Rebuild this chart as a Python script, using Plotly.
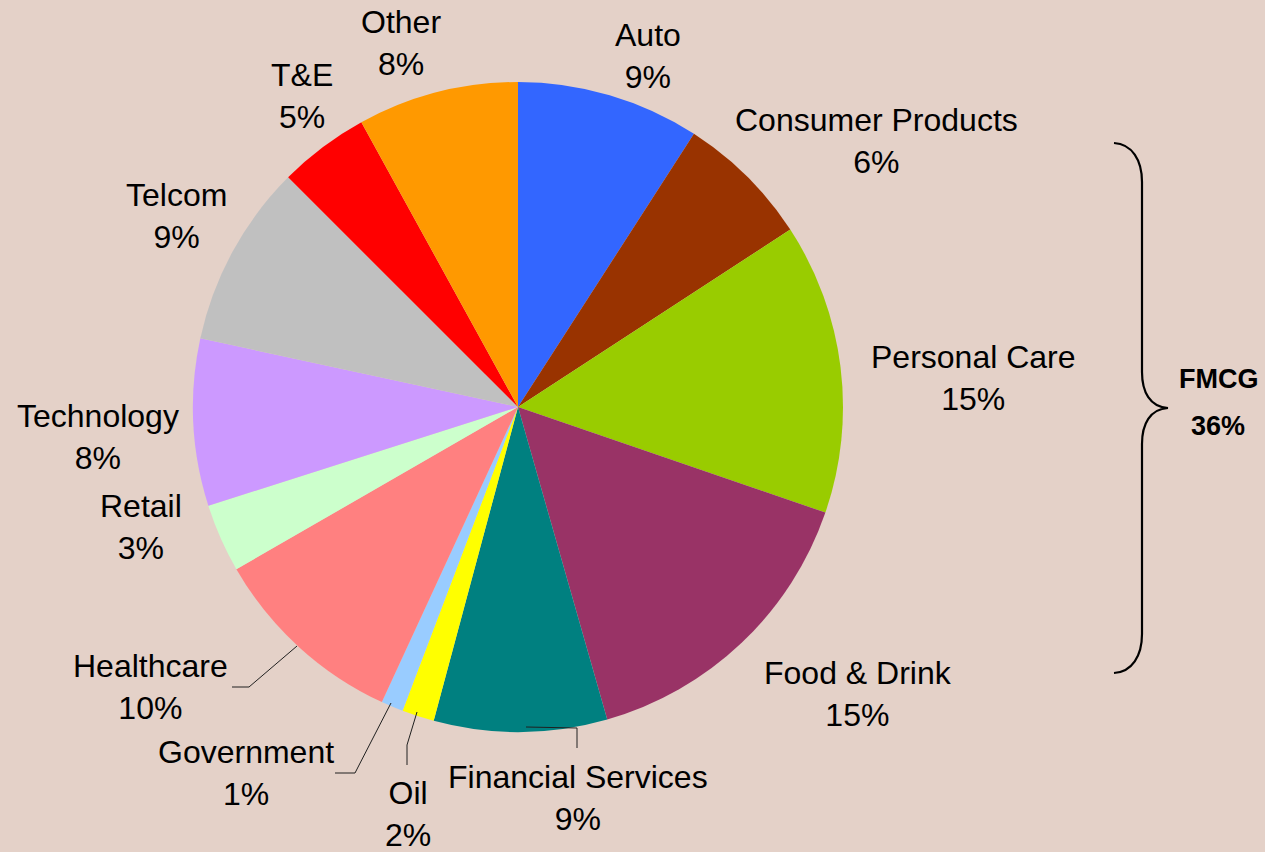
import plotly.graph_objects as go

W, H = 1265, 852

# ---- data ----
sectors = ["Auto", "Consumer Products", "Personal Care", "Food & Drink",
           "Financial Services", "Oil", "Government", "Healthcare", "Retail",
           "Technology", "Telcom", "T&E", "Other"]
shares = [9.1, 6.7, 14.45, 15.3, 8.6, 1.6, 1.1, 9.8, 3.4, 8.3, 9.1, 4.5, 8.0]
share_labels = ["9%", "6%", "15%", "15%", "9%", "2%", "1%", "10%", "3%",
                "8%", "9%", "5%", "8%"]
colors = ["#3366FF", "#993300", "#99CC00", "#993366", "#008080", "#FFFF00",
          "#99CCFF", "#FF8080", "#CCFFCC", "#CC99FF", "#C0C0C0", "#FF0000",
          "#FF9900"]
group_name = "FMCG"
group_label = "36%"

# label centres in pixels (layout only)
label_pos = [(648, 56), (876, 141), (973, 378), (858, 694), (578, 798),
             (408, 814), (246, 773), (150, 687), (141, 527), (98, 437),
             (176, 216), (302, 96), (401, 43)]


def px(x):
    return x / W


def py(y):
    return 1 - y / H


cx, cy, r = 518, 407, 325

fig = go.Figure()
fig.add_trace(go.Pie(
    labels=sectors, values=shares, sort=False, direction="clockwise",
    rotation=0, textinfo="none", hoverinfo="none",
    marker=dict(colors=colors, line=dict(width=0)),
    domain=dict(x=[px(cx - r), px(cx + r)], y=[py(cy + r), py(cy - r)]),
    showlegend=False,
))

font = dict(family="Liberation Sans, Arial, sans-serif", size=32, color="black")
for name, lab, (x, y) in zip(sectors, share_labels, label_pos):
    fig.add_annotation(x=px(x), y=py(y), xref="paper", yref="paper",
                       text=f"{name}<br>{lab}", showarrow=False,
                       xanchor="center", yanchor="middle", align="center",
                       font=font)

bfont = dict(family="Liberation Sans, Arial, sans-serif", size=27,
             color="black")
fig.add_annotation(x=px(1218), y=py(379), xref="paper", yref="paper",
                   text=f"<b>{group_name}</b>", showarrow=False,
                   xanchor="center", yanchor="middle", font=bfont)
fig.add_annotation(x=px(1218), y=py(426), xref="paper", yref="paper",
                   text=f"<b>{group_label}</b>", showarrow=False,
                   xanchor="center", yanchor="middle", font=bfont)

# leader lines
leaders = [
    [(232, 687), (249, 687), (297, 646)],      # Healthcare
    [(335, 773), (355, 773), (391, 703)],      # Government
    [(407, 765), (407, 745), (417, 712)],      # Oil
    [(526, 727), (577, 728), (577, 748)],      # Financial Services
]
for pts in leaders:
    d = "M " + " L ".join(f"{px(a)},{py(b)}" for a, b in pts)
    fig.add_shape(type="path", path=d, xref="paper", yref="paper",
                  line=dict(color="#202020", width=1))


# curly brace
def P(a, b):
    return f"{px(a)},{py(b)}"


brace = (f"M {P(1114,143)} C {P(1132,144)} {P(1142,160)} {P(1142,182)} "
         f"L {P(1142,372)} C {P(1142,392)} {P(1150,407)} {P(1168,408)} "
         f"C {P(1150,409)} {P(1142,424)} {P(1142,444)} "
         f"L {P(1142,634)} C {P(1142,656)} {P(1132,672)} {P(1114,673)}")
fig.add_shape(type="path", path=brace, xref="paper", yref="paper",
              line=dict(color="black", width=2.2))

fig.update_layout(
    width=W, height=H,
    margin=dict(l=0, r=0, t=0, b=0),
    paper_bgcolor="#E4D1C8",
    plot_bgcolor="#E4D1C8",
)

fig.write_html("out.html",
               config={"displayModeBar": False},
               post_script="document.body.style.margin='0';"
                           "document.body.style.overflow='hidden';"
                           "document.body.style.background='#E4D1C8';")
